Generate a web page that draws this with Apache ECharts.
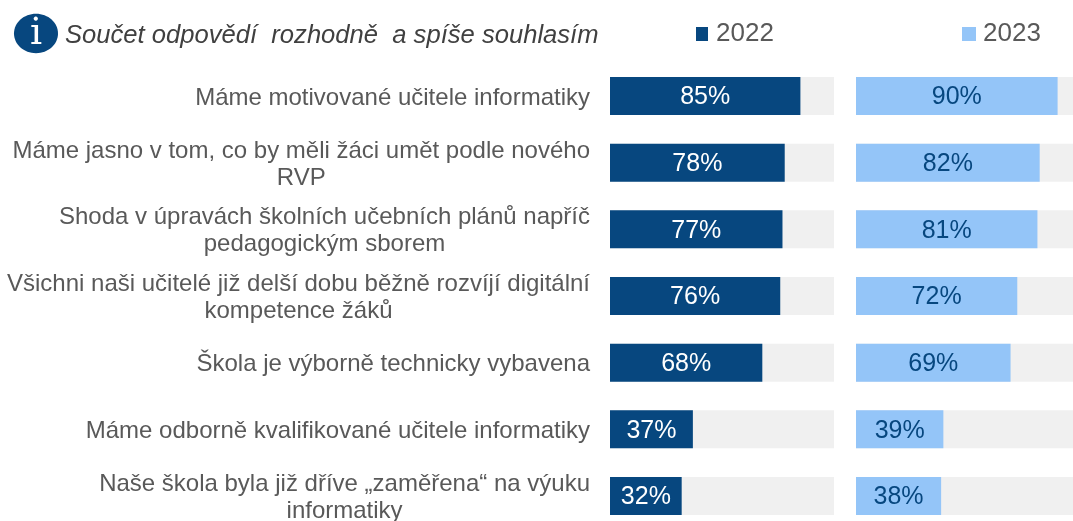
<!DOCTYPE html>
<html><head><meta charset="utf-8">
<style>html,body{margin:0;padding:0;background:#fff;width:1073px;height:521px;overflow:hidden}#c{width:1100px;height:560px}</style>
<script src="https://cdn.jsdelivr.net/npm/echarts@6/dist/echarts.min.js"></script>
</head><body><div id="c"></div>
<script>
const categories = [
  "Máme motivované učitele informatiky",
  "Máme jasno v tom, co by měli žáci umět podle nového\nRVP",
  "Shoda v úpravách školních učebních plánů napříč\npedagogickým sborem",
  "Všichni naši učitelé již delší dobu běžně rozvíjí digitální\nkompetence žáků",
  "Škola je výborně technicky vybavena",
  "Máme odborně kvalifikované učitele informatiky",
  "Naše škola byla již dříve „zaměřena“ na výuku\ninformatiky"
];
const values2022 = [85, 78, 77, 76, 68, 37, 32];
const values2023 = [90, 82, 81, 72, 69, 39, 38];
const titleText = "Součet odpovědí  rozhodně  a spíše souhlasím";

const DARK = "#07477F", LIGHT = "#94C5F8", TRACK = "#F0F0F0", GREY = "#595959";
const FONT = "'Liberation Sans', Arial, sans-serif";

const chart = echarts.init(document.getElementById("c"), null, {renderer: "canvas"});
function bar(name, data, idx, color, labelColor) {
  return {
    name, type: "bar", data, xAxisIndex: idx, yAxisIndex: idx,
    barWidth: 38, showBackground: true,
    backgroundStyle: {color: TRACK},
    itemStyle: {color},
    animation: false,
    label: {show: true, position: "inside", offset: [0, 1.5], formatter: "{c}%", color: labelColor,
      fontFamily: FONT, fontSize: 25}
  };
}
function legend(name, left, size, gap) {
  return {data: [name], left, top: 16, itemWidth: size, itemHeight: 14,
    selectedMode: false, icon: "rect",
    textStyle: {color: GREY, fontSize: 26, fontFamily: FONT, padding: [0, 0, 0, gap]}};
}
const gridTop = 62.67, gridH = 466.67;
chart.setOption({
  animation: false,
  backgroundColor: "#fff",
  title: {text: titleText, left: 60, top: 18,
    textStyle: {color: "#404040", fontSize: 25.6, fontStyle: "italic", fontWeight: "normal", fontFamily: FONT}},
  legend: [legend("2022", 691, 12, 3), legend("2023", 957, 14, 2)],
  grid: [
    {left: 610, top: gridTop, width: 224, height: gridH},
    {left: 856, top: gridTop, width: 224, height: gridH}
  ],
  xAxis: [0, 1].map(i => ({gridIndex: i, type: "value", min: 0, max: 100, show: false})),
  yAxis: [
    {gridIndex: 0, type: "category", inverse: true, data: categories,
      axisLine: {show: false}, axisTick: {show: false},
      axisLabel: {margin: 20, color: GREY, fontFamily: FONT, fontSize: 24, lineHeight: 27, align: "right",
        padding: [4, 0, 0, 0],
        formatter: v => v.split("\n").map(l => "{c|" + l + "}").join("\n"),
        rich: {c: {align: "center", color: GREY, fontFamily: FONT, fontSize: 24, lineHeight: 27}}}},
    {gridIndex: 1, type: "category", inverse: true, data: categories, show: false}
  ],
  series: [bar("2022", values2022, 0, DARK, "#fff"), bar("2023", values2023, 1, LIGHT, DARK)],
  graphic: [
    {type: "ellipse", shape: {cx: 36, cy: 33.5, rx: 22, ry: 19.7}, style: {fill: DARK}},
    {type: "text", x: 36, y: 34, style: {text: "i", fill: "#fff", fontFamily: "'DejaVu Serif'",
      fontSize: 38, align: "center", verticalAlign: "middle"}}
  ]
});
</script></body></html>
